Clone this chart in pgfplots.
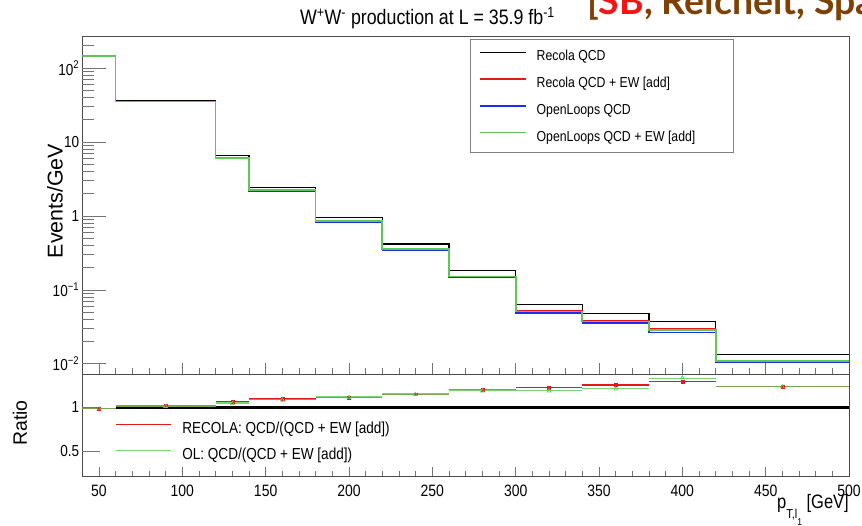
\documentclass[border=0pt]{standalone}
\usepackage{fontspec}
\setmainfont[FakeStretch=0.85]{Liberation Sans}
\newfontfamily\plainfont{Liberation Sans}
\newfontfamily\slidefont{Lato}
\usepackage{pgfplots}
\pgfplotsset{compat=1.18}
\definecolor{hgreen}{RGB}{95,200,85}
\definecolor{hred}{RGB}{225,25,25}
\definecolor{hblue}{RGB}{30,45,235}
\definecolor{slidebrown}{RGB}{125,65,5}
\definecolor{slidered}{RGB}{245,20,20}
\newcommand\fs[1]{\fontsize{#1}{#1}\selectfont}
\begin{document}
\begin{tikzpicture}
% ---------------- upper panel: frame, x ticks, data ----------------
\begin{axis}[
  scale only axis, width=766.7bp, height=338bp,
  at={(82.3bp,152bp)}, anchor=south west,
  xmin=40, xmax=500, ymode=log, ymin=0.0073, ymax=272,
  xtick={50,100,...,500}, minor x tick num=4, xticklabels={},
  ytick=\empty, xtick pos=bottom, tick align=inside,
  major tick length=11bp, minor tick length=6bp,
  axis line style={black!70, line width=0.9bp},
  tick style={black!55, line width=0.8bp},
  legend style={draw=none, fill=none, inner sep=0pt, outer sep=0pt,
    at={(0.5174,0.9595)}, anchor=north west, row sep=12.8bp, column sep=10bp,
    nodes={inner sep=0pt, text height=11bp, text depth=3bp, font=\fs{14.5}}},
  legend cell align=left,
  legend image code/.code={\draw[#1] (0bp,4.5bp) -- (46bp,4.5bp);},
]
\draw[black!50, line width=0.8bp, fill=white] (rel axis cs:0.5057,0.657) rectangle (rel axis cs:0.8487,0.991);
\addplot[const plot mark left, black, line width=1.3bp] coordinates {
 (40,145) (60,36) (120,6.58) (140,2.45) (180,0.957) (220,0.418) (260,0.182)
 (300,0.0637) (340,0.048) (380,0.0373) (420,0.01349) (500,0.01349)};
\addlegendentry{Recola QCD}
\addplot[const plot mark left, hred, line width=1.6bp] coordinates {
 (40,147) (60,35.5) (120,6.15) (140,2.24) (180,0.86) (220,0.36) (260,0.151)
 (300,0.0518) (340,0.0385) (380,0.0294) (420,0.0109) (500,0.0109)};
\addlegendentry{Recola QCD + EW [add]}
\addplot[const plot mark left, hblue, line width=1.6bp] coordinates {
 (40,145) (60,35.2) (120,6.0) (140,2.19) (180,0.835) (220,0.347) (260,0.147)
 (300,0.049) (340,0.0355) (380,0.0267) (420,0.0105) (500,0.0105)};
\addlegendentry{OpenLoops QCD}
\addplot[const plot mark left, hgreen, line width=1.7bp] coordinates {
 (40,146) (60,35.4) (120,6.04) (140,2.23) (180,0.855) (220,0.357) (260,0.152)
 (300,0.0512) (340,0.0373) (380,0.029) (420,0.0109) (500,0.0109)};
\addlegendentry{OpenLoops QCD + EW [add]}
\end{axis}
% ---------------- upper panel: y ticks ----------------
\begin{axis}[
  scale only axis, width=766.7bp, height=338bp,
  at={(82.3bp,152bp)}, anchor=south west,
  xmin=40, xmax=500, ymode=log, ymin=0.0073, ymax=272,
  xtick=\empty, ytick={0.01,0.1,1,10,100},
  minor ytick={0.02,0.03,0.04,0.05,0.06,0.07,0.08,0.09,0.2,0.3,0.4,0.5,0.6,0.7,0.8,0.9,2,3,4,5,6,7,8,9,20,30,40,50,60,70,80,90,200},
  yticklabels={10\textsuperscript{−2},10\textsuperscript{−1},1,10,10\textsuperscript{2}},
  ytick pos=left, tick align=inside,
  major tick length=24bp, minor tick length=12bp,
  axis line style={draw=none},
  tick style={black!55, line width=0.8bp},
  yticklabel style={font=\fs{16}, black, inner sep=1bp, xshift=-2bp},
]
\addplot[draw=none, forget plot] coordinates {(40,1) (500,1)};
\end{axis}
% ---------------- ratio panel: frame, x ticks, data ----------------
\begin{axis}[
  scale only axis, width=766.7bp, height=102bp,
  at={(82.3bp,50bp)}, anchor=south west,
  xmin=40, xmax=500, ymin=0.212, ymax=1.385,
  xtick={50,100,...,500}, minor x tick num=4,
  ytick=\empty, xtick pos=bottom, tick align=inside,
  major tick length=9bp, minor tick length=5bp,
  axis line style={black!70, line width=0.9bp},
  tick style={black!55, line width=0.8bp},
  xticklabel style={font=\fs{16.5}, black, inner sep=1bp, yshift=-8bp},
  /pgf/number format/assume math mode=true,
  legend style={draw=none, fill=none, inner sep=0pt, outer sep=0pt,
    at={(0.0427,0.534)}, anchor=north west, row sep=10.5bp, column sep=11bp,
    nodes={inner sep=0pt, text height=12bp, text depth=3.5bp, font=\fs{16}}},
  legend cell align=left,
  legend image code/.code={\draw[#1] (0bp,5bp) -- (55bp,5bp);},
]
\addplot[black, line width=2.6bp, forget plot] coordinates {(60,1) (500,1)};
\addplot[jump mark left, hred, line width=1.3bp] coordinates {
 (40,0.99) (60,1.016) (120,1.069) (140,1.097) (180,1.115) (220,1.152) (260,1.208)
 (300,1.231) (340,1.258) (380,1.296) (420,1.24) (500,1.24)};
\addlegendentry{RECOLA: QCD/(QCD + EW [add])}
\addplot[jump mark left, hgreen, opacity=0.8, line width=1.3bp] coordinates {
 (40,0.99) (60,1.016) (120,1.05) (140,1.09) (180,1.12) (220,1.154) (260,1.20)
 (300,1.196) (340,1.216) (380,1.334) (420,1.242) (500,1.242)};
\addlegendentry{OL: QCD/(QCD + EW [add])}
\addplot[only marks, mark=square*, mark size=1.4bp, hred, forget plot] coordinates {
 (50,0.99) (90,1.016) (130,1.069) (160,1.097) (200,1.115) (240,1.152) (280,1.208)
 (320,1.231) (360,1.258) (400,1.293) (460,1.24)};
\addplot[only marks, mark=triangle, mark size=2.2bp, hgreen, line width=0.7bp, forget plot] coordinates {
 (50,0.985) (90,1.012) (130,1.045) (160,1.085) (200,1.115) (240,1.15) (280,1.19)
 (320,1.19) (360,1.212) (400,1.34) (460,1.238)};
\end{axis}
% ---------------- ratio panel: y ticks ----------------
\begin{axis}[
  scale only axis, width=766.7bp, height=102bp,
  at={(82.3bp,50bp)}, anchor=south west,
  xmin=40, xmax=500, ymin=0.212, ymax=1.385,
  xtick=\empty, ytick={0.5,1}, yticklabels={0.5,1},
  ytick pos=left, tick align=inside,
  major tick length=18bp,
  axis line style={draw=none},
  tick style={black!55, line width=0.8bp},
  yticklabel style={font=\fs{16}, black, inner sep=1bp, xshift=-2bp},
]
\addplot[draw=none, forget plot] coordinates {(40,1) (500,1)};
\end{axis}
% ---------------- texts ----------------
\node[anchor=base, inner sep=0pt] at (427.5bp,501bp)
  {\fs{21}W\textsuperscript{+}W\textsuperscript{-} production at L = 35.9 fb\textsuperscript{-1}};
\node[anchor=base east, inner sep=0pt] at (849bp,18bp)
  {\fs{19.5}p\raisebox{-10bp}{\fs{13}T,l\raisebox{-7bp}{\fs{10}1}} [GeV]};
\node[rotate=90, inner sep=0pt] at (55bp,325bp) {\plainfont\fs{21.5}Events/GeV};
\node[rotate=90, inner sep=0pt] at (20bp,103bp) {\plainfont\fs{19.5}Ratio};
\begin{scope}
\clip (0bp,0bp) rectangle (862bp,526bp);
\node[anchor=base west, inner sep=0pt] at (587bp,511bp)
  {\slidefont\bfseries\fs{37.5}\color{slidebrown}[{\color{slidered}SB}, Reichelt, Spannowsky]};
\end{scope}
\pgfresetboundingbox
\useasboundingbox (0bp,0bp) rectangle (862bp,526bp);
\end{tikzpicture}
\end{document}
